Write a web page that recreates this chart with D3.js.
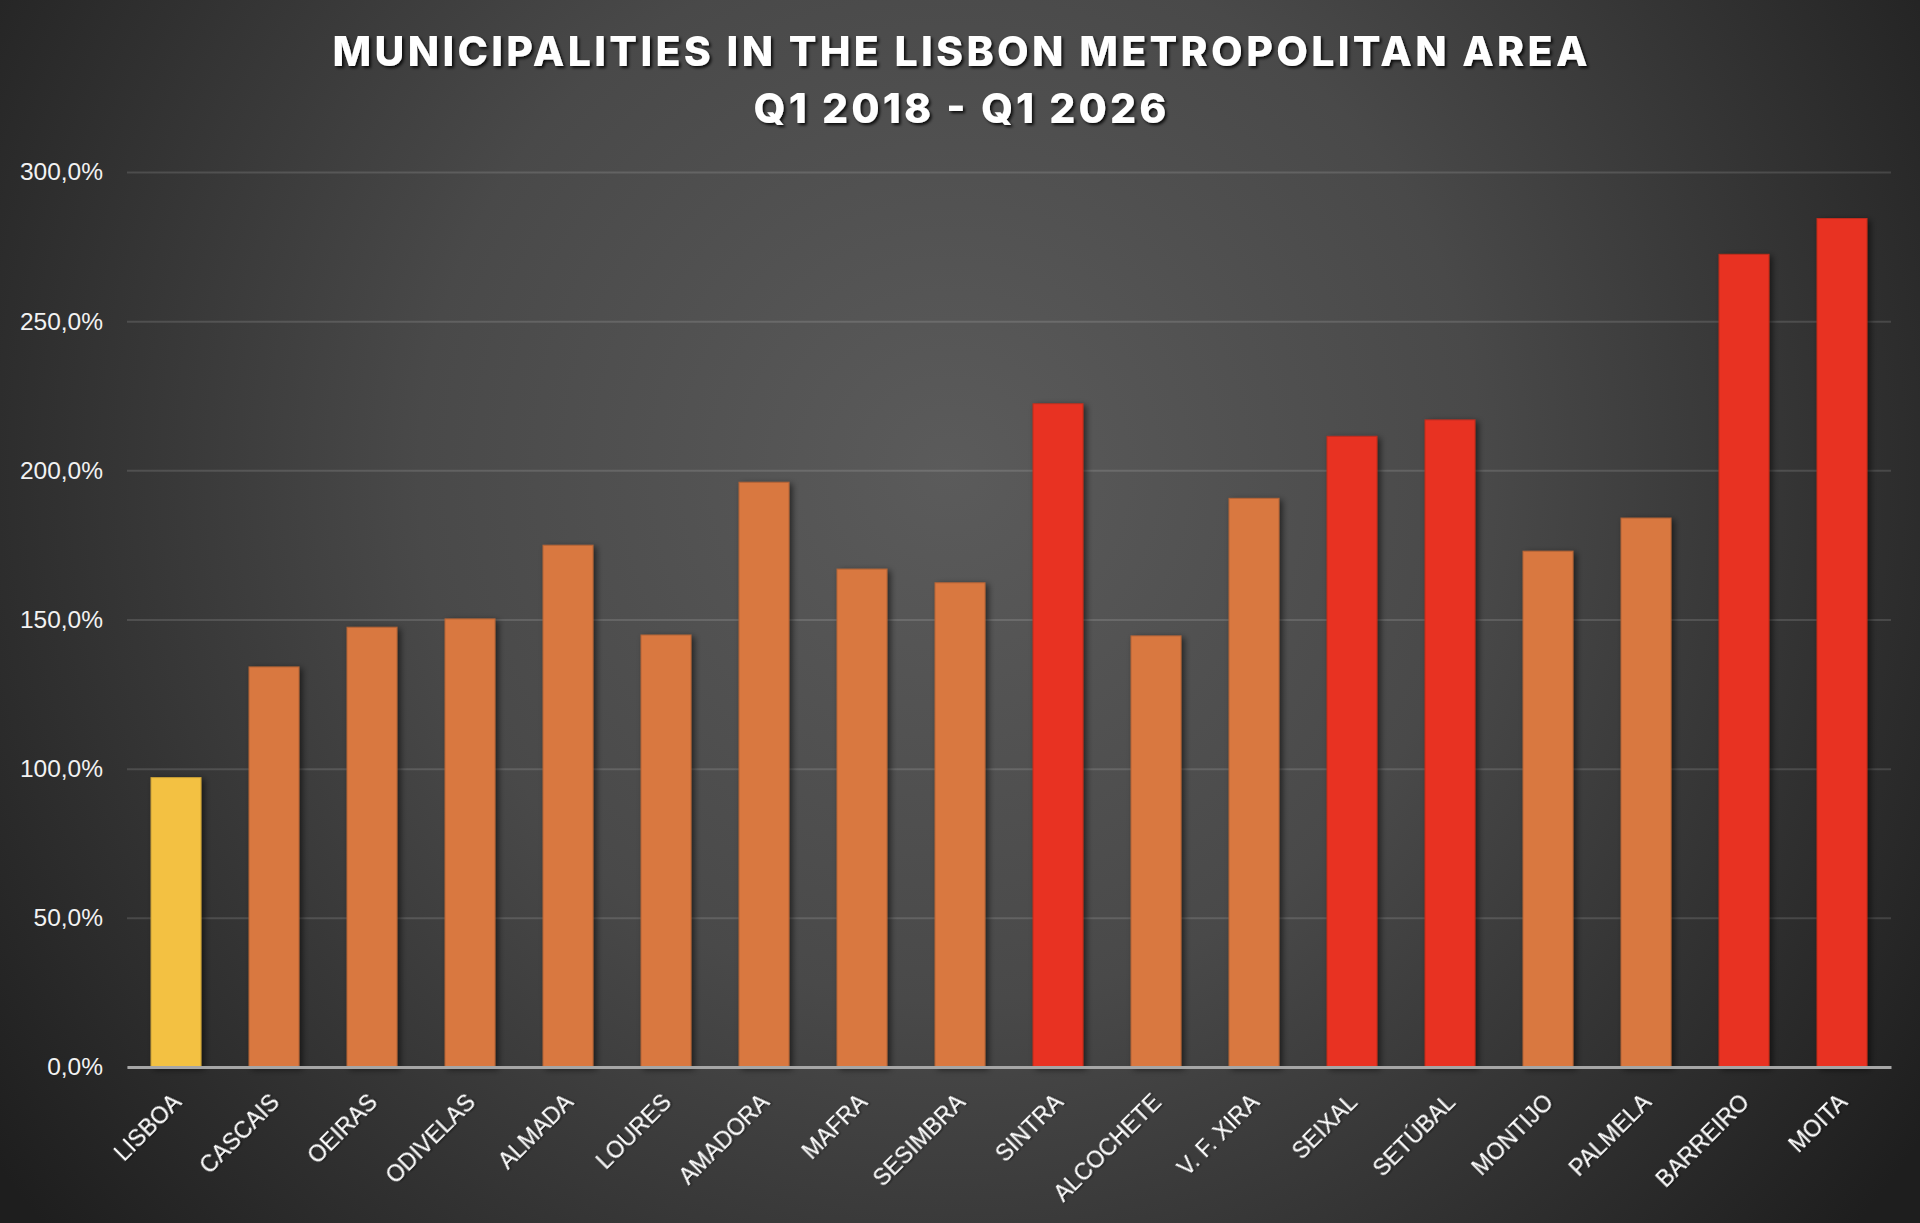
<!DOCTYPE html>
<html>
<head>
<meta charset="utf-8">
<script src="https://cdn.jsdelivr.net/npm/d3@7"></script>
<style>
  html, body { margin: 0; padding: 0; background: #2a2a2a; overflow: hidden; }
  svg { display: block; }
</style>
</head>
<body>
<div id="chart"></div>
<script>
// chart data
var municipalities = ["LISBOA", "CASCAIS", "OEIRAS", "ODIVELAS", "ALMADA", "LOURES",
  "AMADORA", "MAFRA", "SESIMBRA", "SINTRA", "ALCOCHETE", "V. F. XIRA",
  "SEIXAL", "SETÚBAL", "MONTIJO", "PALMELA", "BARREIRO", "MOITA"];
var growth = [97.0, 134.1, 147.4, 150.2, 174.9, 144.8,
  196.0, 166.9, 162.3, 222.3, 144.5, 190.6,
  211.4, 216.9, 172.9, 184.0, 272.4, 284.4];
var tier = ["capital", "mid", "mid", "mid", "mid", "mid",
  "mid", "mid", "mid", "high", "mid", "mid",
  "high", "high", "mid", "mid", "high", "high"];
var yTicks = [0, 50, 100, 150, 200, 250, 300];
var titleLines = ["MUNICIPALITIES IN THE LISBON METROPOLITAN AREA", "Q1 2018 - Q1 2026"];

var tierColor = { capital: "#F3C142", mid: "#D97841", high: "#E83323" };

// dimensions
var W = 1920, H = 1223;
var margin = {top: 172, right: 29, bottom: 156, left: 127},
    width = W - margin.left - margin.right,
    height = H - margin.top - margin.bottom;

var svg = d3.select("#chart")
  .append("svg")
    .attr("width", W)
    .attr("height", H);

var defs = svg.append("defs");

// radial background like the spreadsheet style
var bg = defs.append("radialGradient")
  .attr("id", "bg")
  .attr("gradientUnits", "userSpaceOnUse")
  .attr("cx", 950).attr("cy", 470).attr("r", 1180);
bg.append("stop").attr("offset", "0%").attr("stop-color", "#5b5b5b");
bg.append("stop").attr("offset", "45%").attr("stop-color", "#494949");
bg.append("stop").attr("offset", "100%").attr("stop-color", "#1e1e1e");

var shadow = defs.append("filter").attr("id", "barShadow")
  .attr("x", "-20%").attr("y", "-5%").attr("width", "150%").attr("height", "115%");
shadow.append("feDropShadow")
  .attr("dx", 3).attr("dy", 2).attr("stdDeviation", 3)
  .attr("flood-color", "#000").attr("flood-opacity", 0.55);

var textShadow = defs.append("filter").attr("id", "textShadow")
  .attr("x", "-5%").attr("y", "-30%").attr("width", "110%").attr("height", "160%");
textShadow.append("feDropShadow")
  .attr("dx", 2).attr("dy", 2).attr("stdDeviation", 1.5)
  .attr("flood-color", "#000").attr("flood-opacity", 0.85);

var labelShadow = defs.append("filter").attr("id", "labelShadow")
  .attr("x", "-10%").attr("y", "-30%").attr("width", "120%").attr("height", "160%");
labelShadow.append("feDropShadow")
  .attr("dx", 1).attr("dy", 1).attr("stdDeviation", 1)
  .attr("flood-color", "#000").attr("flood-opacity", 0.7);

svg.append("rect")
  .attr("width", W).attr("height", H)
  .attr("fill", "url(#bg)");

// title
svg.append("g")
  .attr("filter", "url(#textShadow)")
  .selectAll("text")
  .data(titleLines)
  .enter()
  .append("text")
    .attr("x", W / 2)
    .attr("y", function(d, i) { return 66 + i * 57; })
    .attr("text-anchor", "middle")
    .attr("textLength", function(d, i) { return i == 0 ? 1255 : 413; })
    .attr("lengthAdjust", "spacing")
    .style("font-family", "Inter, 'Open Sans', sans-serif")
    .style("font-weight", 800)
    .style("font-size", "41px")
    .style("fill", "#ffffff")
    .text(function(d) { return d; });

var g = svg.append("g")
  .attr("transform", "translate(" + margin.left + "," + margin.top + ")");

// scales
var x = d3.scaleBand()
  .domain(municipalities)
  .range([0, width])
  .paddingInner(0.49)
  .paddingOuter(0.245);

var y = d3.scaleLinear()
  .domain([0, 300])
  .range([height, 0]);

// Y axis with gridlines
var yAxis = g.append("g")
  .attr("class", "y-axis")
  .call(d3.axisLeft(y)
    .tickValues(yTicks)
    .tickSize(-width)
    .tickPadding(24)
    .tickFormat(function(d) { return d.toFixed(1).replace(".", ",") + "%"; }));
yAxis.select(".domain").remove();
yAxis.selectAll(".tick line")
  .attr("stroke", "rgba(255,255,255,0.13)")
  .attr("stroke-width", 2);
yAxis.selectAll(".tick text")
  .style("font-family", "'Liberation Sans', Arial, sans-serif")
  .style("font-size", "24.5px")
  .style("fill", "#f2f2f2");

// bars
var data = municipalities.map(function(m, i) { return {name: m, value: growth[i], tier: tier[i]}; });

g.append("g")
  .attr("filter", "url(#barShadow)")
  .selectAll("rect")
  .data(data)
  .enter()
  .append("rect")
    .attr("x", function(d) { return x(d.name); })
    .attr("y", function(d) { return y(d.value); })
    .attr("width", x.bandwidth())
    .attr("height", function(d) { return height - y(d.value); })
    .attr("fill", function(d) { return tierColor[d.tier]; })
    .attr("stroke", function(d) { return d3.color(tierColor[d.tier]).darker(0.5); })
    .attr("stroke-width", 1);

// X axis
var xAxis = g.append("g")
  .attr("class", "x-axis")
  .attr("transform", "translate(0," + height + ")")
  .call(d3.axisBottom(x).tickSize(0).tickSizeOuter(0));
xAxis.select(".domain")
  .attr("stroke", "#a6a6a6")
  .attr("stroke-width", 3);
xAxis.selectAll(".tick text")
  .attr("x", 0)
  .attr("y", 0)
  .attr("dy", "0.35em")
  .attr("text-anchor", "end")
  .attr("transform", "translate(1,31) rotate(-45)")
  .attr("filter", "url(#labelShadow)")
  .style("font-family", "'Liberation Sans', Arial, sans-serif")
  .style("font-size", "23px")
  .style("fill", "#ffffff");
</script>
</body>
</html>
